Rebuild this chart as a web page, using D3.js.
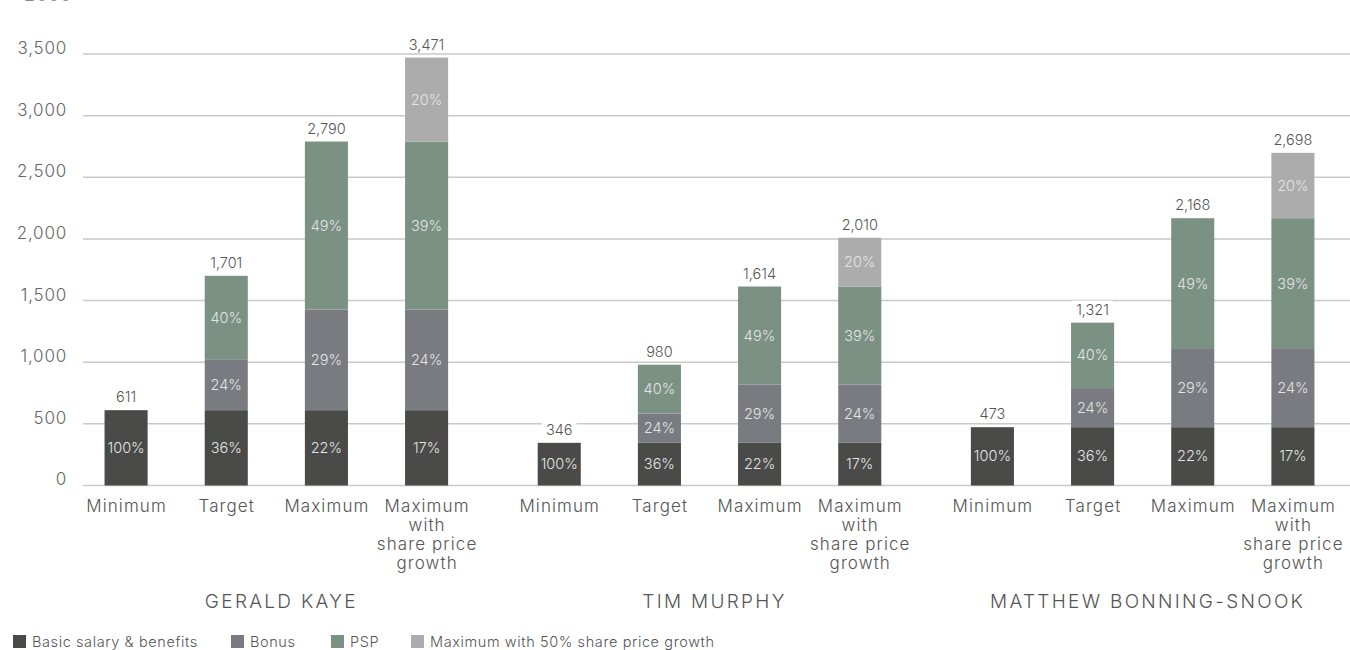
<!DOCTYPE html>
<html>
<head>
<meta charset="utf-8">
<script src="https://cdn.jsdelivr.net/npm/d3@7"></script>
<style>
  html, body { margin: 0; padding: 0; background: #fff; }
  svg { display: block; font-family: Inter, Lato, sans-serif; font-weight: 300; }
</style>
</head>
<body>
<svg id="chart" width="1350" height="650"></svg>
<script>
// Remuneration scenarios per director (£000)
const directors = ["GERALD KAYE", "TIM MURPHY", "MATTHEW BONNING-SNOOK"];
const scenarios = ["Minimum", "Target", "Maximum", "Maximum with share price growth"];
const scenarioLines = [["Minimum"], ["Target"], ["Maximum"], ["Maximum", "with", "share price", "growth"]];
const components = ["Basic salary & benefits", "Bonus", "PSP", "Maximum with 50% share price growth"];
const componentColors = ["#4a4a48", "#797b80", "#7a9184", "#acacac"];

// Component values, one row per director, one entry per scenario
const basicValues = [[611, 611, 611, 611], [346, 346, 346, 346], [473, 473, 473, 473]];
const bonusValues = [[0, 408, 816, 816], [0, 237, 474, 474], [0, 317, 634, 634]];
const pspValues = [[0, 682, 1363, 1363], [0, 397, 794, 794], [0, 531, 1061, 1061]];
const shareGrowthValues = [[0, 0, 0, 681], [0, 0, 0, 396], [0, 0, 0, 530]];

// Share of total shown inside each segment
const basicPct = [["100%", "36%", "22%", "17%"], ["100%", "36%", "22%", "17%"], ["100%", "36%", "22%", "17%"]];
const bonusPct = [["", "24%", "29%", "24%"], ["", "24%", "29%", "24%"], ["", "24%", "29%", "24%"]];
const pspPct = [["", "40%", "49%", "39%"], ["", "40%", "49%", "39%"], ["", "40%", "49%", "39%"]];
const sharePct = [["", "", "", "20%"], ["", "", "", "20%"], ["", "", "", "20%"]];

const yTicks = [0, 500, 1000, 1500, 2000, 2500, 3000, 3500];

const svg = d3.select("#chart");

const x0 = d3.scaleBand().domain(directors).range([76, 1343]).paddingInner(0.075).paddingOuter(0);
const x1 = d3.scaleBand().domain(scenarios).range([0, x0.bandwidth()]).paddingInner(0.57).paddingOuter(0.285);
const y = d3.scaleLinear().domain([0, 3500]).range([485.5, 54]);

// Unit label at the very top
svg.append("text").attr("x", 72).attr("y", 0.5).attr("text-anchor", "end")
  .attr("fill", "#888").style("font-size", "18px").style("letter-spacing", "0.8px").text("£000");

// Gridlines
const yAxis = d3.axisLeft(y).tickValues(yTicks).tickSize(0).tickFormat(d3.format(","));
svg.append("g").selectAll("line").data(yTicks).join("line")
  .attr("x1", 83).attr("x2", 1350)
  .attr("y1", d => y(d)).attr("y2", d => y(d))
  .attr("stroke", "#c9c9c9").attr("stroke-width", 1.5);

const ga = svg.append("g").attr("transform", "translate(67,-6)").call(yAxis);
ga.select(".domain").remove();
ga.selectAll("text").attr("fill", "#666").style("font-size", "17px")
  .style("letter-spacing", "0.8px")
  .style("font-family", "Inter, Lato, sans-serif").style("font-weight", 300).attr("x", 0);

// Build stacked segments
const layers = [basicValues, bonusValues, pspValues, shareGrowthValues];
const pctLayers = [basicPct, bonusPct, pspPct, sharePct];
const segments = [];
const totals = [];
directors.forEach((dir, di) => {
  scenarios.forEach((sc, si) => {
    let acc = 0;
    layers.forEach((layer, li) => {
      const v = layer[di][si];
      if (v > 0) {
        segments.push({ dir, sc, li, y0: acc, y1: acc + v, pct: pctLayers[li][di][si] });
      }
      acc += v;
    });
    totals.push({ dir, sc, total: acc });
  });
});

const bars = svg.append("g");
bars.selectAll("rect").data(segments).join("rect")
  .attr("x", d => x0(d.dir) + x1(d.sc))
  .attr("width", x1.bandwidth())
  .attr("y", d => y(d.y1))
  .attr("height", d => y(d.y0) - y(d.y1))
  .attr("fill", d => componentColors[d.li]);

bars.selectAll("text").data(segments).join("text")
  .attr("x", d => x0(d.dir) + x1(d.sc) + x1.bandwidth() / 2)
  .attr("y", d => (y(d.y0) + y(d.y1)) / 2)
  .attr("dy", "0.35em")
  .attr("text-anchor", "middle")
  .attr("fill", "#e4e4e4")
  .style("font-size", "14.5px")
  .text(d => d.pct);

// Totals above bars, on a white backing so gridlines break behind them
const totalG = svg.append("g");
totals.forEach(t => {
  const g = totalG.append("g");
  const txt = g.append("text")
    .attr("x", x0(t.dir) + x1(t.sc) + x1.bandwidth() / 2)
    .attr("y", y(t.total) - 8)
    .attr("text-anchor", "middle")
    .attr("fill", "#555")
    .style("font-size", "14.5px")
    .text(d3.format(",")(t.total));
  const b = txt.node().getBBox();
  g.insert("rect", "text").attr("x", b.x - 4).attr("y", b.y).attr("width", b.width + 8)
    .attr("height", b.height).attr("fill", "#fff");
});

// Scenario labels
const labelsG = svg.append("g");
directors.forEach(dir => {
  scenarios.forEach((sc, si) => {
    const cx = x0(dir) + x1(sc) + x1.bandwidth() / 2 + 0.5;
    const t = labelsG.append("text")
      .attr("x", cx)
      .attr("y", 512)
      .attr("text-anchor", "middle")
      .attr("fill", "#555")
      .style("font-size", "17px")
      .style("letter-spacing", "1.1px");
    scenarioLines[si].forEach((line, i) => {
      t.append("tspan").attr("x", cx)
        .attr("dy", i === 0 ? 0 : 19).text(line);
    });
  });
});

// Director names
svg.append("g").selectAll("text").data(directors).join("text")
  .attr("x", d => x0(d) + x0.bandwidth() / 2 + 5)
  .attr("y", 608)
  .attr("text-anchor", "middle")
  .attr("fill", "#555")
  .style("font-size", "19px")
  .style("letter-spacing", "2.3px")
  .text(d => d);

// Legend
const legendX = [13, 231, 331, 411];
const lg = svg.append("g");
components.forEach((c, i) => {
  lg.append("rect").attr("x", legendX[i]).attr("y", 635).attr("width", 13).attr("height", 13)
    .attr("fill", componentColors[i]);
  lg.append("text").attr("x", legendX[i] + 19).attr("y", 647)
    .attr("fill", "#555").style("font-size", "14.5px").style("letter-spacing", "0.6px").text(c);
});
</script>
</body>
</html>
